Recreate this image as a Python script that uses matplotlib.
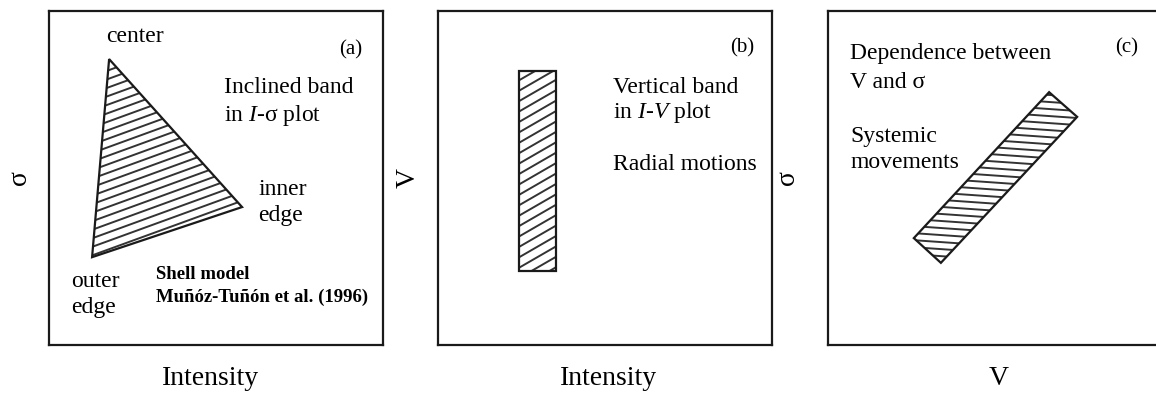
import numpy as np
import matplotlib.pyplot as plt
from matplotlib.patches import Polygon

plt.rcParams['font.family'] = ['Liberation Serif', 'DejaVu Serif']
plt.rcParams['mathtext.fontset'] = 'custom'
plt.rcParams['mathtext.rm'] = 'Liberation Serif'
plt.rcParams['mathtext.it'] = 'Liberation Serif:italic'

# shapes in axes units (0..1)
shell_x = [0.180, 0.578, 0.129]      # center, inner edge, outer edge
shell_y = [0.856, 0.413, 0.263]
radial_x = [0.243, 0.353]            # left, right
radial_y = [0.222, 0.820]            # bottom, top
systemic_x = [0.662, 0.746, 0.338, 0.257]
systemic_y = [0.757, 0.683, 0.246, 0.320]

xlabels = ['Intensity', 'Intensity', 'V']
ylabels = ['σ', 'V', 'σ']


def hatch(ax, patch, angle, spacing, lw=1.4):
    # parallel lines clipped to the patch
    t = np.deg2rad(angle)
    d = np.array([np.cos(t), np.sin(t)])
    n = np.array([-np.sin(t), np.cos(t)])
    for k in np.arange(-2.0, 2.0, spacing):
        p0 = n * k - d * 3
        p1 = n * k + d * 3
        ln, = ax.plot([p0[0], p1[0]], [p0[1], p1[1]], color='#333333', lw=lw,
                      solid_capstyle='butt')
        ln.set_clip_path(patch)


fig = plt.figure(figsize=(11.56, 3.97), dpi=100)
lefts = [49 / 1156, 438 / 1156, 828 / 1156]
axes = [fig.add_axes([l, 52 / 397, 334 / 1156, 334 / 397]) for l in lefts]
xlabel_x = [0.485, 0.51, 0.51]
ylabel_x = [-0.087, -0.09, -0.12]

for ax, xl, yl, lx, ly in zip(axes, xlabels, ylabels, xlabel_x, ylabel_x):
    ax.set_xlim(0, 1)
    ax.set_ylim(0, 1)
    ax.set_xticks([])
    ax.set_yticks([])
    for s in ax.spines.values():
        s.set_linewidth(1.6)
        s.set_color('#1a1a1a')
    ax.text(lx, -0.1, xl, transform=ax.transAxes, ha='center', va='center',
            fontsize=20)
    ax.text(ly, 0.5, yl, transform=ax.transAxes, rotation=90,
            ha='center', va='center', fontsize=20)

fs = 17

# (a) shell model
ax = axes[0]
tri = Polygon(np.column_stack([shell_x, shell_y]), closed=True, fill=False,
              edgecolor='#1a1a1a', lw=1.6, zorder=3)
ax.add_patch(tri)
hatch(ax, tri, 20, 0.024)
ax.text(0.171, 0.925, 'center', fontsize=fs, va='center')
ax.text(0.868, 0.883, '(a)', fontsize=15, va='center')
ax.text(0.524, 0.772, 'Inclined band', fontsize=fs, va='center')
ax.text(0.524, 0.686, r'in $I$-σ plot', fontsize=fs, va='center')
ax.text(0.626, 0.467, 'inner', fontsize=fs, va='center')
ax.text(0.626, 0.389, 'edge', fontsize=fs, va='center')
ax.text(0.066, 0.189, 'outer', fontsize=fs, va='center')
ax.text(0.066, 0.111, 'edge', fontsize=fs, va='center')
ax.text(0.320, 0.210, 'Shell model', fontsize=13.5, fontweight='bold',
        va='center')
ax.text(0.320, 0.144, 'Muñóz-Tuñón et al. (1996)', fontsize=13.5,
        fontweight='bold', va='center')

# (b) radial motions
ax = axes[1]
rect = Polygon([[radial_x[0], radial_y[0]], [radial_x[1], radial_y[0]],
                [radial_x[1], radial_y[1]], [radial_x[0], radial_y[1]]],
               closed=True, fill=False, edgecolor='#1a1a1a', lw=1.6, zorder=3)
ax.add_patch(rect)
hatch(ax, rect, 30, 0.027)
ax.text(0.874, 0.889, '(b)', fontsize=15, va='center')
ax.text(0.524, 0.772, 'Vertical band', fontsize=fs, va='center')
ax.text(0.524, 0.695, r'in $I$-$V$ plot', fontsize=fs, va='center')
ax.text(0.524, 0.539, 'Radial motions', fontsize=fs, va='center')

# (c) systemic movements
ax = axes[2]
band = Polygon(np.column_stack([systemic_x, systemic_y]), closed=True,
               fill=False, edgecolor='#1a1a1a', lw=1.6, zorder=3)
ax.add_patch(band)
hatch(ax, band, -4, 0.021)
ax.text(0.859, 0.889, '(c)', fontsize=15, va='center')
ax.text(0.066, 0.874, 'Dependence between', fontsize=fs, va='center')
ax.text(0.066, 0.787, 'V and σ', fontsize=fs, va='center')
ax.text(0.066, 0.623, 'Systemic', fontsize=fs, va='center')
ax.text(0.066, 0.545, 'movements', fontsize=fs, va='center')

fig.savefig('out.png', dpi=100)
